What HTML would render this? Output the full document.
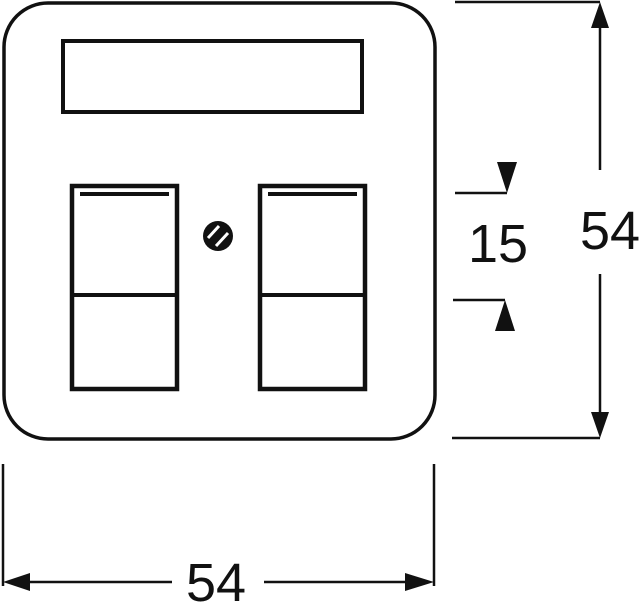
<!DOCTYPE html>
<html><head><style>html,body{margin:0;padding:0;background:#fff}svg{display:block}</style></head>
<body>
<svg width="640" height="616" viewBox="0 0 640 616" xmlns="http://www.w3.org/2000/svg">
<g fill="none" stroke="#111">
<rect x="4" y="3" width="431" height="436" rx="44" stroke-width="3.5"/>
<rect x="63" y="41" width="299" height="71" stroke-width="4"/>
<rect x="72" y="186" width="105" height="203" stroke-width="4.5"/>
<rect x="260" y="186" width="105" height="203" stroke-width="4.5"/>
<line x1="72" y1="295" x2="177" y2="295" stroke-width="4"/>
<line x1="260" y1="295" x2="365" y2="295" stroke-width="4"/>
<line x1="80" y1="194" x2="169" y2="194" stroke-width="4"/>
<line x1="268" y1="194" x2="357" y2="194" stroke-width="4"/>
<g stroke-width="2.5">
<line x1="455" y1="2" x2="600" y2="2"/>
<line x1="452" y1="438" x2="600" y2="438"/>
<line x1="600" y1="20" x2="600" y2="170"/>
<line x1="600" y1="274" x2="600" y2="420"/>
<line x1="455" y1="193" x2="507" y2="193"/>
<line x1="453" y1="300" x2="505" y2="300"/>
<line x1="3" y1="464" x2="3" y2="586"/>
<line x1="434" y1="464" x2="434" y2="586"/>
<line x1="15" y1="582" x2="172" y2="582"/>
<line x1="264" y1="582" x2="420" y2="582"/>
</g>
</g>
<g fill="#111">
<circle cx="218" cy="236" r="15"/>
<polygon points="600,2 591,28 609,28"/>
<polygon points="600,438 591,412 609,412"/>
<polygon points="497,162 517,162 507,193"/>
<polygon points="495,331 515,331 505,300"/>
<polygon points="3,582 30,573 30,591"/>
<polygon points="434,582 405,573 405,591"/>
</g>
<g stroke="#fff" stroke-width="3">
<line x1="208" y1="238" x2="219" y2="226"/>
<line x1="216" y1="246" x2="228" y2="233"/>
</g>
<g font-family="Liberation Sans, sans-serif" font-size="54" fill="#111" text-anchor="middle">
<text x="610" y="249">54</text>
<text x="498" y="262">15</text>
<text x="216" y="601">54</text>
</g>
</svg>
</body></html>
